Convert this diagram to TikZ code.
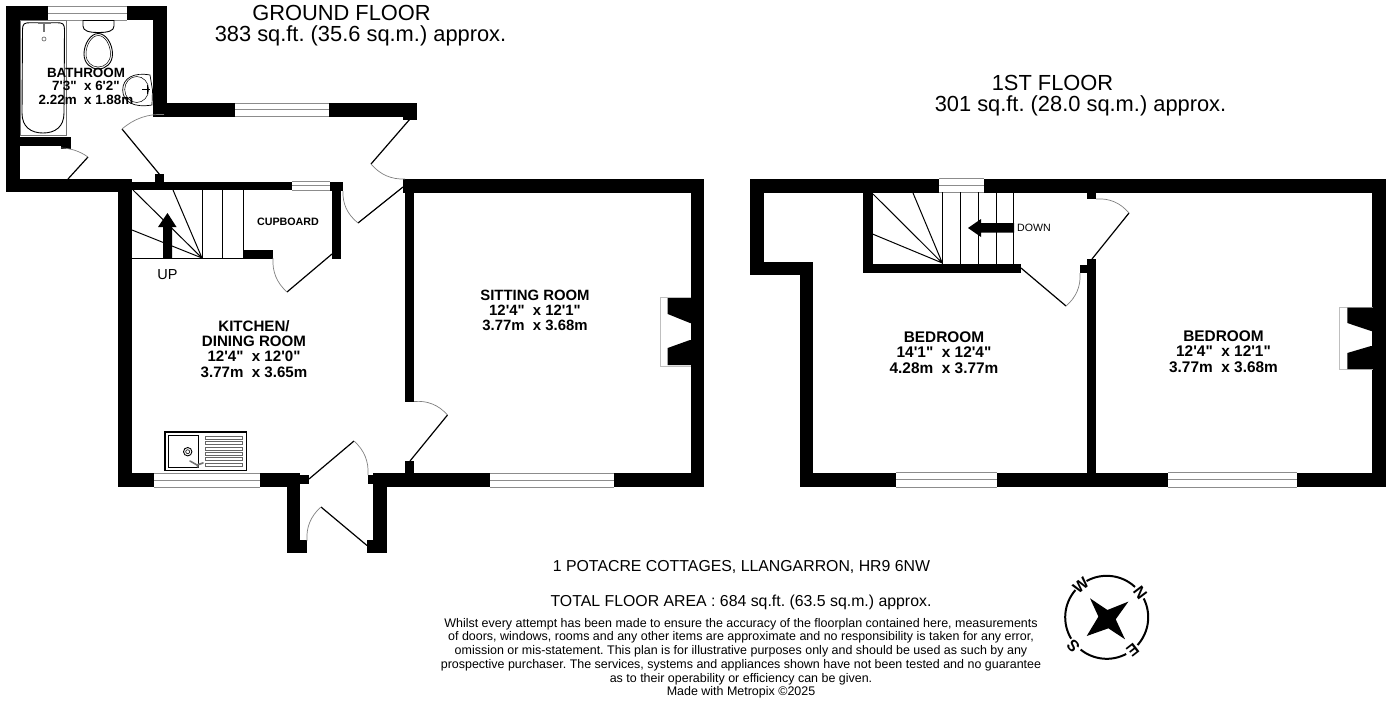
\documentclass[tikz,border=0pt]{standalone}
\usepackage{fontspec}
\setmainfont[Ligatures=TeXOff]{Liberation Sans}
\usetikzlibrary{calc}
\frenchspacing
\newcommand{\fsz}[1]{\fontsize{#1}{#1}\selectfont}
% wall rectangle
\newcommand{\wl}[4]{\fill[wallfill] (#1,#2) rectangle (#3,#4);}
% window: white panel with three grey rules
\newcommand{\winh}[4]{\fill[white] (#1,#2) rectangle (#3,#4);
  \draw[winline] (#1,#2) -- (#3,#2) (#1,{(#2+#4)/2}) -- (#3,{(#2+#4)/2}) (#1,#4) -- (#3,#4);}
% door: hinge, leaf tip, arc end (arc about the hinge, about 45 degrees)
\newcommand{\door}[6]{\draw[leaf] (#1,#2) -- (#3,#4);
  \pgfmathsetmacro{\qx}{#1+1.16*((#3+#5)/2-#1)}
  \pgfmathsetmacro{\qy}{#2+1.16*((#4+#6)/2-#2)}
  \draw[swing] (#3,#4) .. controls ({#3+0.667*(\qx-#3)},{#4+0.667*(\qy-#4)}) and ({#5+0.667*(\qx-#5)},{#6+0.667*(\qy-#6)}) .. (#5,#6);}
\tikzset{
  x=1pt,y=-1pt,
  wallfill/.style={fill=black},
  winline/.style={draw=black!45,line width=0.9pt},
  leaf/.style={draw=black,line width=1.2pt},
  swing/.style={draw=black!50,line width=0.7pt},
  fixture/.style={draw=black,line width=0.9pt},
  fixturegrey/.style={draw=black!55,line width=0.9pt},
  fpline/.style={draw=black!25,line width=0.7pt},
  stairline/.style={draw=black,line width=1pt},
  room/.style={align=center,inner sep=0pt,font=\bfseries\fsz{14.9}},
  bedroom/.style={align=center,inner sep=0pt,font=\bfseries\fsz{15.4}},
  title/.style={inner sep=0pt,font=\fsz{21.85}},
  foot/.style={inner sep=0pt,font=\fsz{15.85}},
  small/.style={inner sep=0pt,font=\fsz{12.47}},
  compassletter/.style={inner sep=0pt,font=\bfseries\fsz{16}}
}
\begin{document}
\begin{tikzpicture}
\useasboundingbox (0,0) rectangle (1392,704);
\fill[white] (0,0) rectangle (1392,704);

%%%% GROUND FLOOR walls
\wl{6}{6}{20}{192}
\wl{6}{6}{166.5}{20}
\wl{153}{6}{166.5}{116.5}
\wl{153}{103}{416.5}{116.5}
\wl{403}{110}{416.5}{119.5}
\wl{6}{179}{131.5}{192}
\wl{20}{137}{62}{146}
\wl{61}{137}{71}{148.5}
\wl{117.5}{179}{131.5}{487}
\wl{131}{181.5}{343}{189.5}
\wl{155}{174}{164}{182}
\wl{330}{181.5}{343}{190.5}
\wl{332}{189}{341}{258.5}
\wl{243}{250}{273}{258.5}
\wl{403}{179}{704}{192.5}
\wl{405}{179}{414}{401.5}
\wl{691}{179}{704}{487}
\wl{405}{461}{414}{474}
\wl{117.5}{473}{300}{487}
\wl{300}{475}{309}{484}
\wl{287}{473}{300}{553}
\wl{287}{540}{307}{553}
\wl{372.5}{473}{704}{487}
\wl{368}{475}{373}{484}
\wl{372.5}{473}{386.5}{553}
\wl{367}{540}{386.5}{553}
%%%% ground floor windows
\winh{48}{6}{127}{20}
\winh{235}{103}{329}{116.5}
\winh{292}{181.5}{330}{190}
\winh{154}{473}{260}{487}
\winh{490}{473}{614}{487}

%%%% FIRST FLOOR walls
\wl{750}{178.5}{1386}{192.5}
\wl{750}{178.5}{764}{275}
\wl{750}{262}{813}{275}
\wl{799.5}{262}{813}{487}
\wl{799.5}{472.5}{1386}{487}
\wl{1372}{178.5}{1386}{487}
\wl{862.5}{192}{873}{273}
\wl{862.5}{263.5}{1021}{273}
\wl{1087}{192}{1096}{199}
\wl{1087}{259}{1096}{487}
\wl{1080}{264.5}{1088}{273}
\winh{939}{178.5}{984}{192.5}
\winh{896}{472.5}{997}{487}
\winh{1168}{472.5}{1297}{487}

%%%% Doors
\door{160}{175}{122}{129}{164}{114.5}
\door{68}{179}{88}{157}{61}{148}
\door{410}{119}{371}{164}{405}{179}
\door{403}{187}{358}{223}{343}{191}
\door{332}{254}{287}{292}{273}{258}
\door{410}{461}{447.5}{415}{414}{401.5}
\door{309}{479}{354}{441}{368}{475}
\door{367}{545.5}{321}{507}{307}{541}
\door{1092}{259}{1129}{213}{1096}{199}
\door{1021}{268}{1066}{306}{1080}{273}

%%%% Stairs ground floor
\draw[stairline] (132,258.5) -- (243,258.5);
\draw[stairline] (202,190) -- (202,258.5) (222.7,190) -- (222.7,258.5) (243,190) -- (243,258.5);
\draw[stairline] (202,258) -- (133,190) (202,258) -- (173,190) (202,258) -- (132,230);
\fill[wallfill] (163,258.5) -- (163,227) -- (158,227) -- (167.5,213) -- (176.5,227) -- (172,227) -- (172,258.5) -- cycle;
\node[inner sep=0pt,font=\fsz{14.5}] (up) at (167.5,274.5) {UP};

%%%% Stairs first floor
\draw[stairline] (942.3,192) -- (942.3,263.5) (960.3,192) -- (960.3,263.5) (978.3,192) -- (978.3,263.5) (996,192) -- (996,263.5) (1013.7,192) -- (1013.7,263.5);
\draw[stairline] (942.3,263) -- (873,194) (942.3,263) -- (913,193) (942.3,263) -- (872.5,234);
\fill[wallfill] (1014,223) -- (981,223) -- (981,219) -- (968,228) -- (981,237) -- (981,232.5) -- (1014,232.5) -- cycle;
\node[inner sep=0pt,font=\fsz{10.6}] (down) at (1034,228) {DOWN};

%%%% Fireplaces
\draw[fpline] (691,297) -- (660.5,297) -- (660.5,366) -- (691,366);
\fill[wallfill] (667.7,298) -- (692,298) -- (692,323) -- (690,323) -- (667.7,314) -- cycle;
\fill[wallfill] (667.7,348) -- (690,340) -- (692,340) -- (692,365) -- (667.7,365) -- cycle;
\draw[fpline] (1373,307) -- (1339,307) -- (1339,369.5) -- (1373,369.5);
\fill[wallfill] (1347.3,307.5) -- (1373,307.5) -- (1373,331) -- (1371,331) -- (1347.3,323) -- cycle;
\fill[wallfill] (1347.3,353) -- (1371,346) -- (1373,346) -- (1373,369) -- (1347.3,369) -- cycle;

%%%% Bathroom fixtures
\draw[fixturegrey] (20.7,20) rectangle (66.7,135);
\draw[fixture] (22.5,30) .. controls (22.5,24) and (24,22.7) .. (30,22.7) -- (57,22.7) .. controls (63,22.7) and (64.5,24) .. (64.5,30) -- (64,113) .. controls (64,127) and (55,133) .. (43,133) .. controls (31,133) and (22,127) .. (22,113) -- cycle;
\draw[fixturegrey,line width=1.3pt] (37.5,23) -- (50.5,23) (44,22) -- (44,32);
\draw[fixturegrey,line width=0.7pt] (44,39) circle (2);
% toilet
\draw[fixture] (83,20.5) -- (114,20.5) -- (114,26) .. controls (114,31) and (108,32.5) .. (98.5,32.5) .. controls (89,32.5) and (83,31) .. (83,26) -- cycle;
\draw[fixture] (98.3,33.5) .. controls (106,33.5) and (112.5,44) .. (112.5,54) .. controls (112.5,63) and (106,69) .. (98.3,69) .. controls (90.5,69) and (84,63) .. (84,54) .. controls (84,44) and (90.5,33.5) .. (98.3,33.5) -- cycle;
\draw[fixture,line width=0.5pt] (98.3,35.5) .. controls (105,35.5) and (110.5,45) .. (110.5,54) .. controls (110.5,62) and (105,67) .. (98.3,67) .. controls (91.5,67) and (86,62) .. (86,54) .. controls (86,45) and (91.5,35.5) .. (98.3,35.5) -- cycle;
% basin
\draw[fixture,line width=0.7pt] (150,75) .. controls (134,72) and (122.7,78) .. (122.7,90) .. controls (122.7,102) and (134,108) .. (152,105) -- (152.5,90) -- cycle;
\draw[fixture,line width=0.5pt] (136.7,89.5) ellipse (12 and 13);
\draw[fixture,line width=0.7pt] (147,85) -- (147,94) (142,89.5) -- (150,89.5);
\node[inner sep=0pt,align=center,font=\bfseries\fsz{13.4}] (bathroom) at (86,86) {BATHROOM\\7'3"\ \ x 6'2"\\2.22m\ \ x 1.88m};

%%%% Sink
\draw[draw=black,line width=1.2pt] (165,432) rectangle (246.5,470.5);
\draw[draw=black,line width=0.9pt] (168.7,435.7) rectangle (198.3,467.7);
\draw[fixture] (187.7,451.7) circle (4.2);
\draw[fixture,line width=0.6pt] (187.7,451.7) circle (2);
\draw[fixturegrey,line width=1.6pt,line cap=round] (190,461) -- (197,465) -- (203,463) (197,465) -- (198,467);
\foreach \yy in {437.7,443.3,449,454,459.3,464.7}{
  \draw[draw=black!60,line width=0.7pt,fill=white] (205.7,\yy-1.5) rectangle (242.3,\yy+1.5);
}

%%%% Room labels
\node[inner sep=0pt,font=\bfseries\fsz{10.7}] (cupboard) at (288,221.5) {CUPBOARD};
\node[room,font=\bfseries\fsz{15.1}] (kitchen) at (254,349) {KITCHEN/\\DINING ROOM\\12'4"\ \ x 12'0"\\3.77m\ \ x 3.65m};
\node[room] (sitting) at (535,310) {SITTING ROOM\\12'4"\ \ x 12'1"\\3.77m\ \ x 3.68m};
\node[bedroom] (bed1) at (944,352.5) {BEDROOM\\14'1"\ \ x 12'4"\\4.28m\ \ x 3.77m};
\node[bedroom] (bed2) at (1223.5,351.5) {BEDROOM\\12'4"\ \ x 12'1"\\3.77m\ \ x 3.68m};

%%%% Titles
\node[title] (gf) at (341.5,13) {GROUND FLOOR};
\node[title] (gfa) at (360.5,35.5) {383 sq.ft. (35.6 sq.m.) approx.};
\node[title] (ff) at (1052.5,83) {1ST FLOOR};
\node[title] (ffa) at (1080.5,105.5) {301 sq.ft. (28.0 sq.m.) approx.};

%%%% Footer
\node[foot] (addr) at (741.5,567) {1 POTACRE COTTAGES, LLANGARRON, HR9 6NW};
\node[foot] (total) at (741,602) {TOTAL FLOOR AREA : 684 sq.ft. (63.5 sq.m.) approx.};
\node[small] (d1) at (741,624) {Whilst every attempt has been made to ensure the accuracy of the floorplan contained here, measurements};
\node[small] (d2) at (741,637.7) {of doors, windows, rooms and any other items are approximate and no responsibility is taken for any error,};
\node[small] (d3) at (741,651.4) {omission or mis-statement. This plan is for illustrative purposes only and should be used as such by any};
\node[small] (d4) at (741,665.1) {prospective purchaser. The services, systems and appliances shown have not been tested and no guarantee};
\node[small] (d5) at (741,678.8) {as to their operability or efficiency can be given.};
\node[small] (d6) at (741,692.5) {Made with Metropix ©2025};

%%%% Compass
\begin{scope}[shift={(1106.7,617.3)}]
  \foreach \a/\b in {47/119,139/211,231/298,318/387}{
    \draw[black,line width=2pt] ({41.5*cos(\a)},{-41.5*sin(\a)}) arc[start angle=-\a,end angle=-\b,radius=41.5];
  }
  \fill[black] (21.7,-15.7) -- (0.7,-7.3) -- (-16.7,-19) -- (-8.3,-0.7) -- (-20,18.7) -- (1.7,11) -- (18.3,22) -- (9,2) -- cycle;
  \node[compassletter,rotate=-53] (cn) at (33.5,-25) {N};
  \node[compassletter,rotate=39] (cw) at (-26,-32) {W};
  \node[compassletter,rotate=131] (cs) at (-33.5,29) {S};
  \node[compassletter,rotate=218] (ce) at (26,32.5) {E};
\end{scope}
\end{tikzpicture}
\end{document}
